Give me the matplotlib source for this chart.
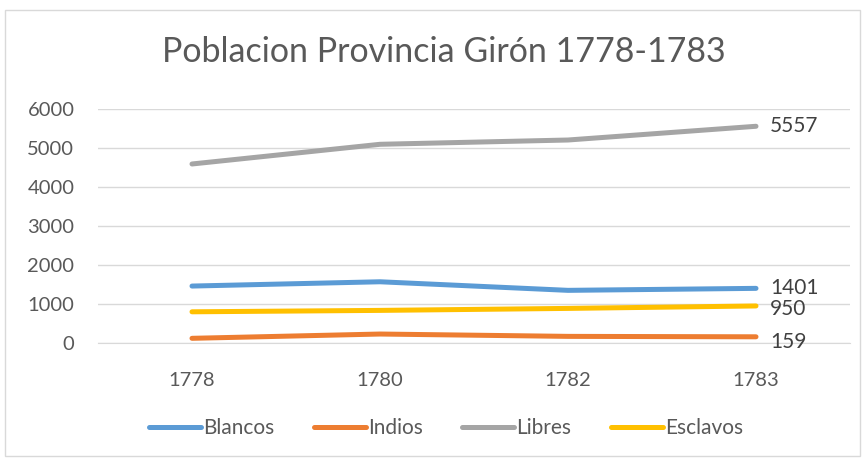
import matplotlib
matplotlib.use("Agg")
import matplotlib.pyplot as plt
from matplotlib.patches import Rectangle

plt.rcParams['font.family'] = ['Lato', 'DejaVu Sans']

years = ["1778", "1780", "1782", "1783"]
blancos = [1460, 1570, 1350, 1401]
indios = [120, 230, 170, 159]
libres = [4590, 5095, 5205, 5557]
esclavos = [800, 836, 887, 950]

series = [
    ("Blancos", blancos, "#5B9BD5"),
    ("Indios", indios, "#ED7D31"),
    ("Libres", libres, "#A5A5A5"),
    ("Esclavos", esclavos, "#FFC000"),
]

fig = plt.figure(figsize=(8.66, 4.61), dpi=100)
fig.patches.append(Rectangle((5/866, 5/461), 855/866, 446/461, transform=fig.transFigure,
                             fill=False, edgecolor="#D9D9D9", linewidth=1.0))
ax = fig.add_axes([98/866, 118/461, 752/866, 234/461])

x = list(range(len(years)))
for name, vals, col in series:
    ax.plot(x, vals, color=col, linewidth=3.6, solid_capstyle="round", label=name)

label_offsets = {"Libres": 0, "Blancos": 0, "Esclavos": -2, "Indios": -4}
for name, vals, col in series:
    ax.annotate(str(vals[-1]), xy=(x[-1], vals[-1]), xytext=(10, label_offsets[name]),
                textcoords="offset points", ha="left", va="center",
                fontsize=15, color="#404040")

ax.set_xlim(-0.5, len(years) - 0.5)
ax.set_ylim(0, 6000)
ax.set_yticks(range(0, 6001, 1000))
ax.set_xticks(x)
ax.set_xticklabels(years)
ax.yaxis.grid(True, color="#D9D9D9", linewidth=1.0)
ax.set_axisbelow(True)
for s in ["top", "right", "left"]:
    ax.spines[s].set_visible(False)
ax.spines["bottom"].set_color("#D9D9D9")
ax.tick_params(axis="both", length=0, labelsize=14.5, labelcolor="#595959")
ax.tick_params(axis="y", pad=17)
ax.tick_params(axis="x", pad=21)

fig.text(0.512, 1 - 52/461, "Poblacion Provincia Girón 1778-1783", ha="center", va="center",
         fontsize=24.5, color="#595959")

leg = fig.legend(loc="center", bbox_to_anchor=(0.515, 1 - 428/461), ncol=4, frameon=False,
                 fontsize=15, handlelength=2.5, handletextpad=0.1, columnspacing=1.9)
for t in leg.get_texts():
    t.set_color("#595959")

fig.savefig("out.png", dpi=100)
